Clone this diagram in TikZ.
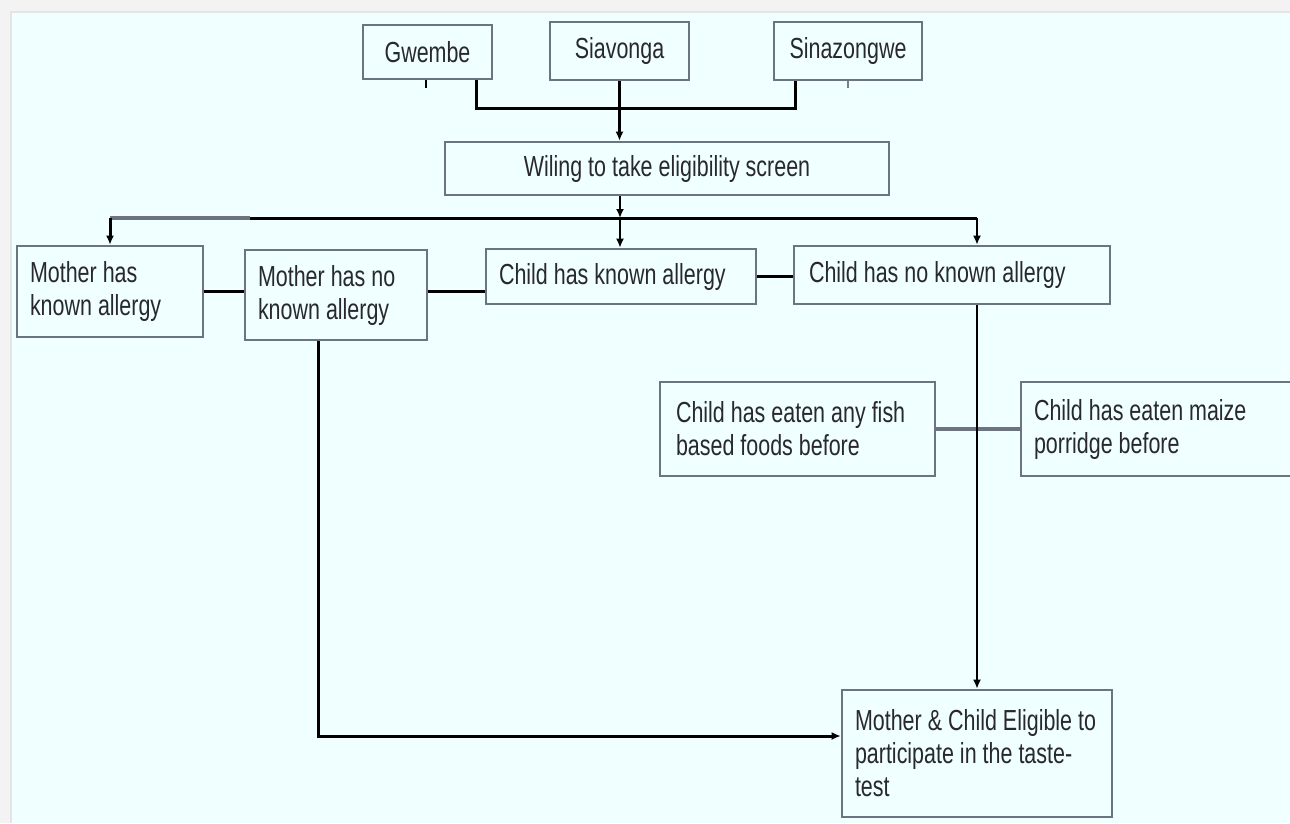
\documentclass[tikz,border=0pt]{standalone}
\usepackage{fontspec}
\setmainfont{Liberation Sans}[FakeStretch=0.74]
\usetikzlibrary{arrows.meta}
\definecolor{bggray}{RGB}{243,243,243}
\definecolor{bgline}{RGB}{228,228,228}
\definecolor{canvas}{RGB}{240,255,255}
\definecolor{boxline}{RGB}{108,116,128}
\definecolor{txt}{RGB}{40,40,45}
\definecolor{tickgray}{RGB}{120,125,135}
\newcommand{\diagfont}{\fontsize{29}{33}\selectfont}
\begin{document}
\begin{tikzpicture}[x=1pt,y=-1pt,
  box/.style={draw=boxline, line width=2.6pt, inner xsep=13pt, inner ysep=0pt, text=txt,
              font=\diagfont, anchor=center,
              execute at begin node={\spaceskip=6pt\xspaceskip=6pt\relax}},
  lbox/.style={box, align=left},
  cbox/.style={box, align=center},
  conn/.style={draw=black, line width=3pt},
  arr/.style={conn, -{Latex[length=9pt,width=8pt]}},
]
\useasboundingbox (0,0) rectangle (1290,823);
\fill[bggray] (0,0) rectangle (1290,823);
\fill[bgline] (10,11) rectangle (1290,823);
\fill[canvas] (12,13) rectangle (1290,823);
\clip (0,0) rectangle (1290,823);

% top row
\node[cbox, minimum width=129pt, text width=103pt, minimum height=54pt] (gw) at (427.5,52) {Gwembe};
\node[cbox, minimum width=139pt, text width=113pt, minimum height=58pt] (sv) at (619.5,51) {Siavonga};
\node[cbox, minimum width=148pt, text width=122pt, minimum height=58pt] (sz) at (848,51) {Sinazongwe};
\node[cbox, minimum width=444pt, text width=418pt, minimum height=53pt] (wl) at (667,168.5) {Wiling to take eligibility screen};

% second row
\node[lbox, minimum width=186pt, text width=160pt, minimum height=91pt] (mhk) at (110,291.5) {Mother has\\known allergy};
\node[lbox, minimum width=182pt, text width=156pt, minimum height=90pt] (mhn) at (336,295) {Mother has no\\known allergy};
\node[lbox, minimum width=270pt, text width=244pt, minimum height=55pt] (chk) at (621,276.5) {Child has known allergy};
\node[lbox, minimum width=316pt, inner xsep=15pt, text width=286pt, minimum height=58pt] (chn) at (952,275) {Child has no known allergy};

% third row
\node[lbox, minimum width=275pt, inner xsep=16pt, text width=243pt, minimum height=94pt] (fish) at (797.5,429) {Child has eaten any fish\\based foods before};
\node[lbox, minimum width=275pt, text width=249pt, minimum height=94pt] (maize) at (1158.5,429) {Child has eaten maize\\porridge before};

% final
\node[lbox, minimum width=270pt, text width=244pt, minimum height=127pt] (mc) at (977,753.5) {Mother \& Child Eligible to\\participate in the taste-\\test};

% bus coordinates
\coordinate (busL) at (110,218);
\coordinate (busM) at (620,218);
\coordinate (busR) at (977,218);

% connectors
\draw[conn] (gw.south -| 476,0) -- (476,108) -- (795,108) -- (sz.south -| 795,0);
\draw[conn, line width=2.4pt] (gw.south -| 426,0) -- ++(0,8);
\draw[draw=tickgray, line width=1.8pt] (sz.south -| 848,0) -- ++(0,7);
\draw[arr, line width=2.4pt] (sv.south) -- (sv.south |- wl.north);
\draw[arr, line width=2.4pt] (wl.south -| busM) -- (busM);
\draw[conn] (busL) -- (busR);
\draw[draw=boxline, line width=3.2pt] (busL) -- (250,218);
\draw[arr] (busL) -- (mhk.north);
\draw[arr, line width=2.4pt] (busM) -- (busM |- chk.north);
\draw[arr, line width=2.4pt] (busR) -- (busR |- chn.north);
\draw[conn] (mhk.east |- 0,291) -- (mhn.west |- 0,291);
\draw[conn] (mhn.east |- 0,291) -- (chk.west |- 0,291);
\draw[conn] (chk.east) -- (chk.east -| chn.west);
\draw[conn, draw=boxline, line width=3.4pt] (fish.east) -- (maize.west);
\draw[arr, line width=2.4pt] (busR |- chn.south) -- (busR |- mc.north);
\draw[arr] (mhn.south -| 318,0) |- (mc.west |- 0,736);
\end{tikzpicture}
\end{document}
